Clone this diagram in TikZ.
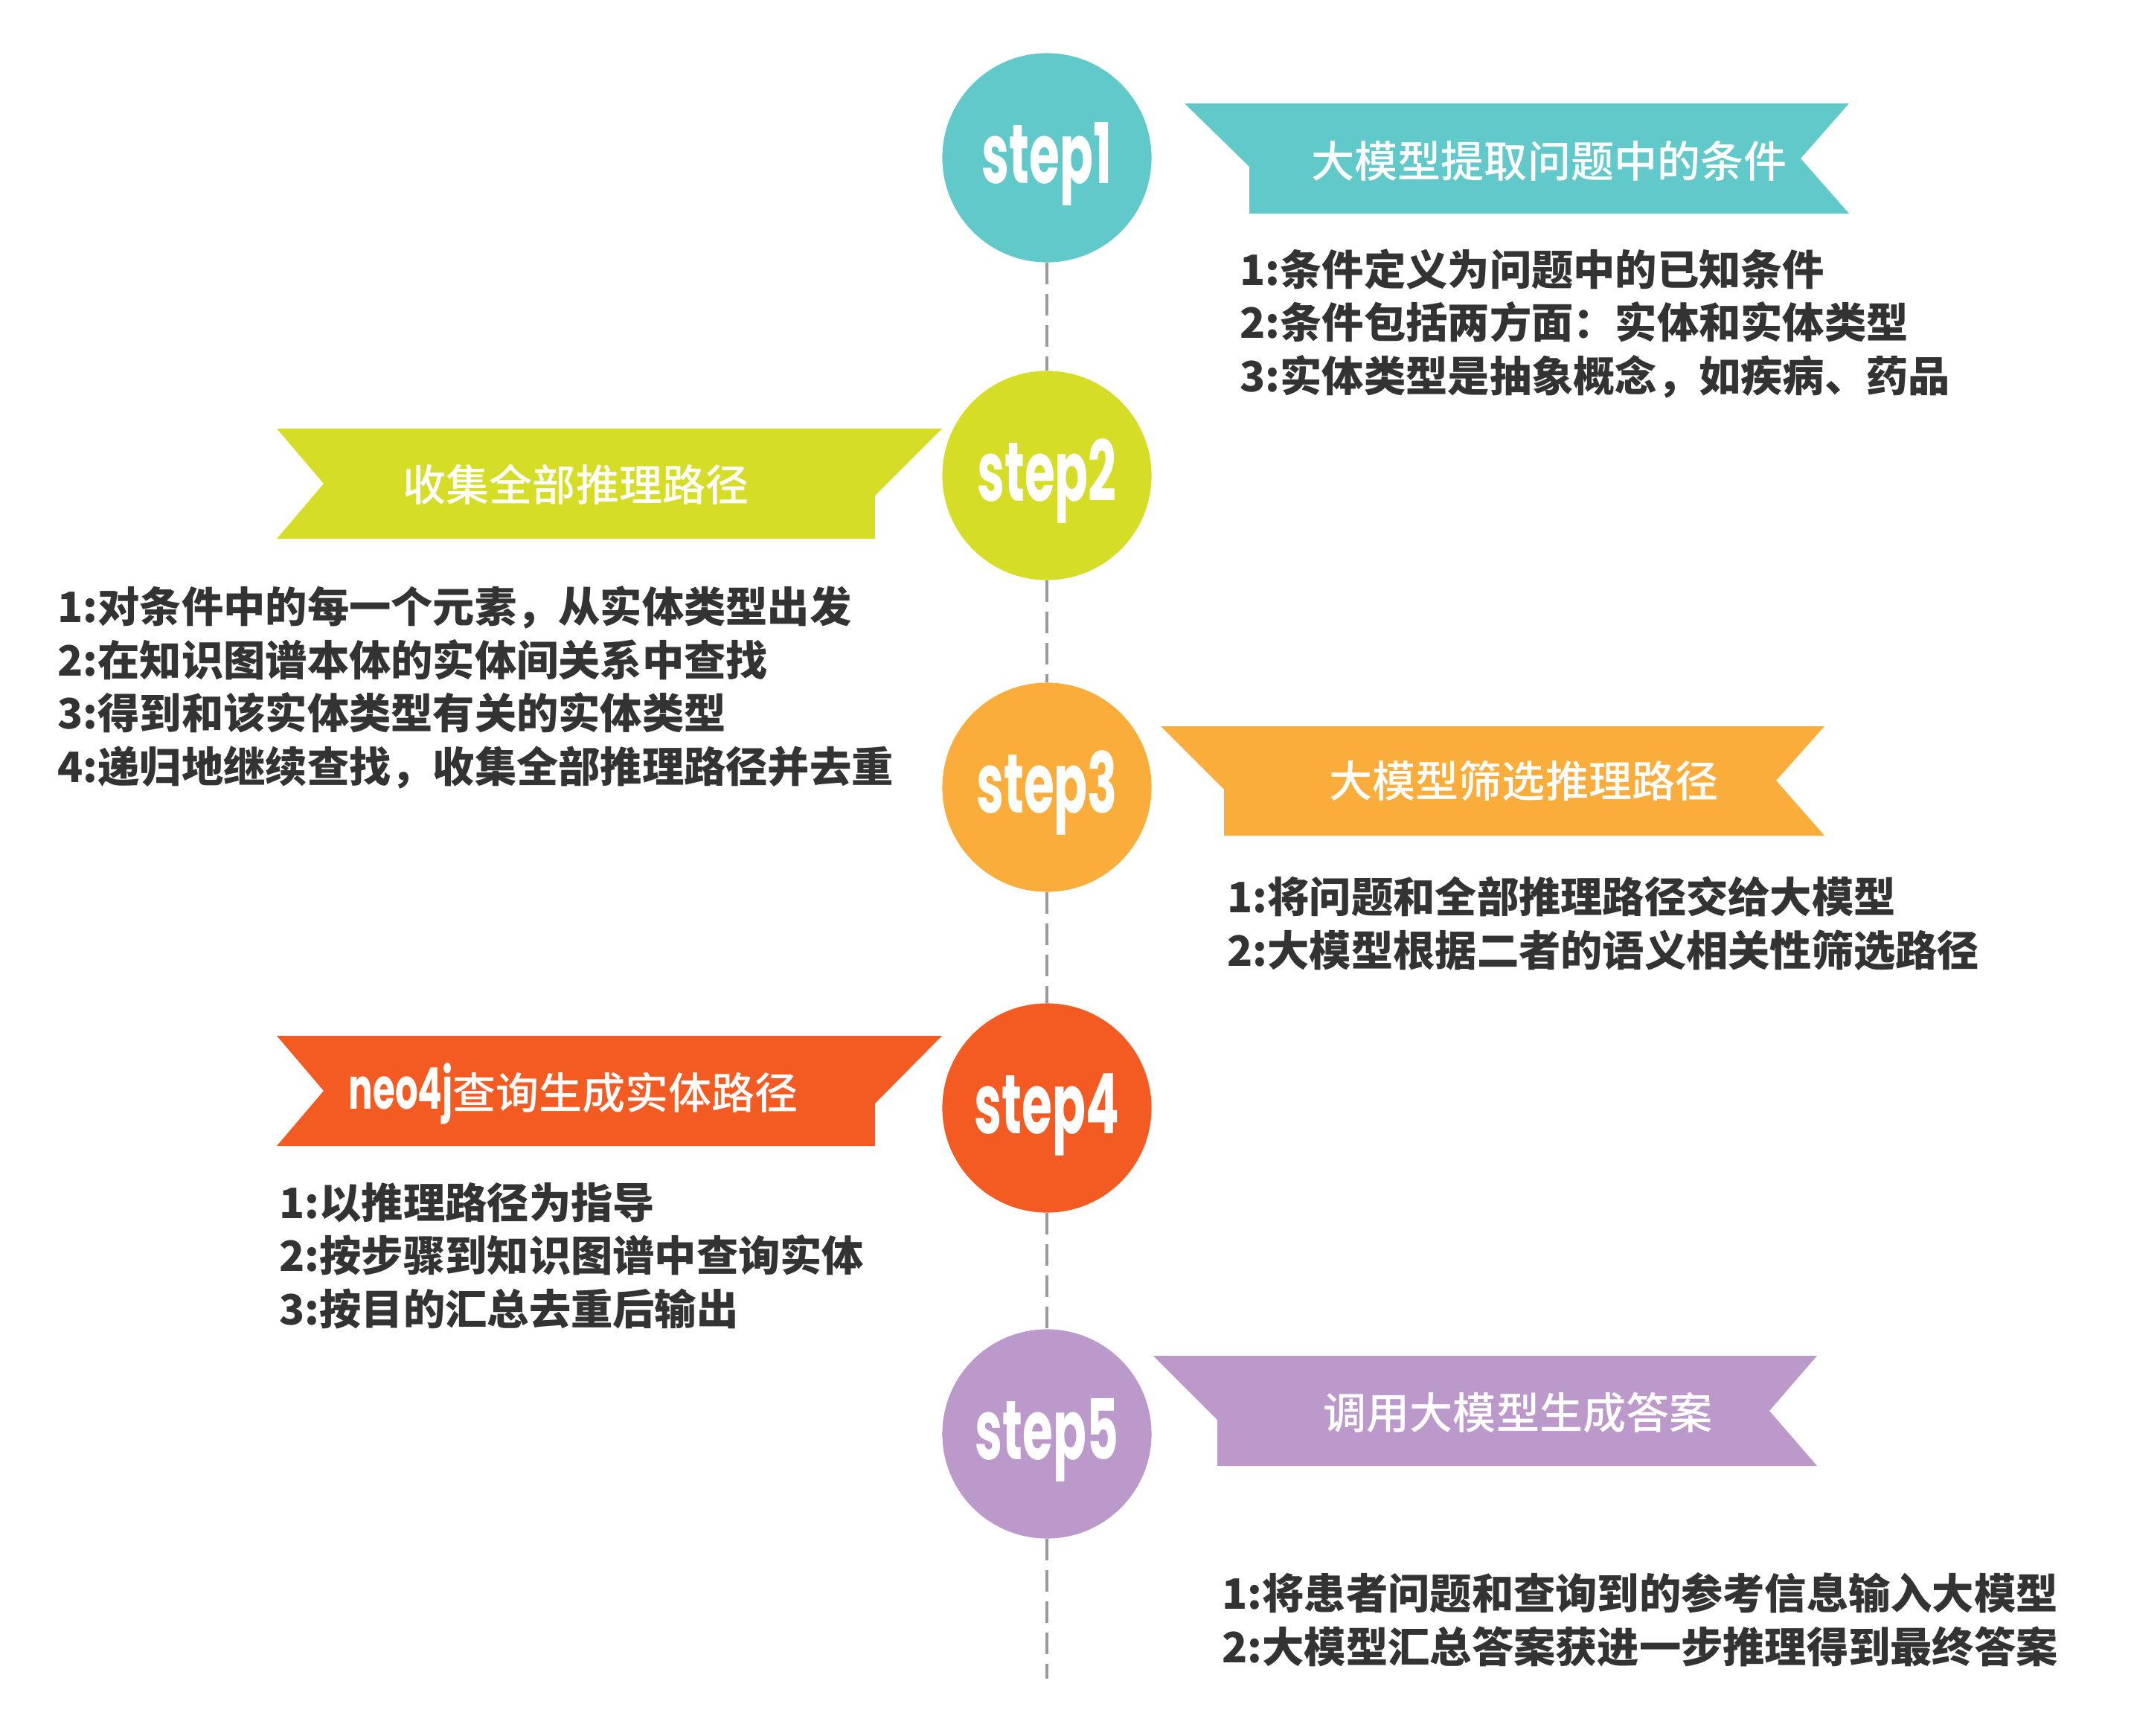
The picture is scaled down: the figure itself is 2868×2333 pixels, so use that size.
\documentclass[tikz,border=0pt]{standalone}
\usepackage{graphicx}
\usepackage{fontspec}
\newfontfamily\cjk{Noto Sans CJK SC}
\newfontfamily\cjkmid{Noto Sans CJK SC Medium}
\newfontfamily\steplat{Poppins}
\usepackage{xcolor}

\definecolor{tealC}{HTML}{62C9CB}
\definecolor{limeC}{HTML}{D5DD26}
\definecolor{orangeC}{HTML}{FBAD3B}
\definecolor{redC}{HTML}{F45B23}
\definecolor{lilacC}{HTML}{BB99CA}
\definecolor{inkC}{HTML}{333333}
\definecolor{axisC}{HTML}{9A9A9A}

\newcommand{\squeeze}[1]{\scalebox{0.66}[1.12]{#1}}

\begin{document}
\begin{tikzpicture}[x=0.01cm, y=-0.01cm,
    stepdot/.style={circle, fill=#1, draw=none, minimum size=2.81cm, inner sep=0pt},
    steplbl/.style={anchor=base, inner sep=0pt, text=white,
        font=\steplat\bfseries\fontsize{28.5}{30}\selectfont},
    ribbontext/.style={anchor=base, inner sep=0pt, text=white,
        font=\cjkmid\fontsize{16.5}{20}\selectfont},
    bodytext/.style={anchor=base west, inner sep=0pt, align=left, text=inkC,
        font=\cjk\bfseries\fontsize{16}{20.3}\selectfont},
    axis/.style={draw=axisC, line width=1.1pt, dash pattern=on 8.2pt off 3.7pt}]
    \useasboundingbox (0,0) rectangle (2868,2333);

    % Kreise
    \node[stepdot=tealC]   (s1) at (1407,212)  {};
    \node[stepdot=limeC]   (s2) at (1407,639)  {};
    \node[stepdot=orangeC] (s3) at (1407,1058) {};
    \node[stepdot=redC]    (s4) at (1407,1489) {};
    \node[stepdot=lilacC]  (s5) at (1407,1927) {};
    \coordinate (axisend) at (1407,2256);

    \node[steplbl] (l1) at (1407,246)  {\squeeze{step1}};
    \node[steplbl] (l2) at (1407,673)  {\squeeze{step2}};
    \node[steplbl] (l3) at (1407,1092) {\squeeze{step3}};
    \node[steplbl] (l4) at (1407,1523) {\squeeze{step4}};
    \node[steplbl] (l5) at (1407,1961) {\squeeze{step5}};

    % Achse
    \draw[axis] (s1) -- (s2);
    \draw[axis] (s2) -- (s3);
    \draw[axis] (s3) -- (s4);
    \draw[axis] (s4) -- (s5);
    \draw[axis] (s5) -- (axisend);

    % Band 1
    \fill[tealC] (1592,139) -- (2485,139) -- (2420,213) -- (2485,287)
        -- (1679,287) -- (1679,224) -- cycle;
    \node[ribbontext] (r1) at (2082,238) {大模型提取问题中的条件};
    \node[bodytext] (b1) at (1666,526) {1:条件定义为问题中的已知条件\\
        2:条件包括两方面：实体和实体类型\\
        3:实体类型是抽象概念，如疾病、药品};

    % Band 2
    \fill[limeC] (1266,576) -- (372,576) -- (435,650) -- (372,724)
        -- (1176,724) -- (1176,666) -- cycle;
    \node[ribbontext] (r2) at (774,673) {收集全部推理路径};
    \node[bodytext] (b2) at (77,1051) {1:对条件中的每一个元素，从实体类型出发\\
        2:在知识图谱本体的实体间关系中查找\\
        3:得到和该实体类型有关的实体类型\\
        4:递归地继续查找，收集全部推理路径并去重};

    % Band 3
    \fill[orangeC] (1560,976) -- (2452,976) -- (2387,1049) -- (2452,1123)
        -- (1645,1123) -- (1645,1061) -- cycle;
    \node[ribbontext] (r3) at (2048,1071) {大模型筛选推理路径};
    \node[bodytext] (b3) at (1649,1298) {1:将问题和全部推理路径交给大模型\\
        2:大模型根据二者的语义相关性筛选路径};

    % Band 4
    \fill[redC] (1266,1392) -- (372,1392) -- (435,1466) -- (372,1540)
        -- (1176,1540) -- (1176,1483) -- cycle;
    \node[ribbontext] (r4) at (771,1490)
        {\scalebox{0.7}[1.12]{\steplat\bfseries\fontsize{19.6}{20}\selectfont neo4j}查询生成实体路径};
    \node[bodytext] (b4) at (375,1780) {1:以推理路径为指导\\
        2:按步骤到知识图谱中查询实体\\
        3:按目的汇总去重后输出};

    % Band 5
    \fill[lilacC] (1550,1822) -- (2442,1822) -- (2378,1896) -- (2442,1970)
        -- (1636,1970) -- (1636,1908) -- cycle;
    \node[ribbontext] (r5) at (2040,1920) {调用大模型生成答案};
    \node[bodytext] (b5) at (1642,2234) {1:将患者问题和查询到的参考信息输入大模型\\
        2:大模型汇总答案获进一步推理得到最终答案};
\end{tikzpicture}
\end{document}
